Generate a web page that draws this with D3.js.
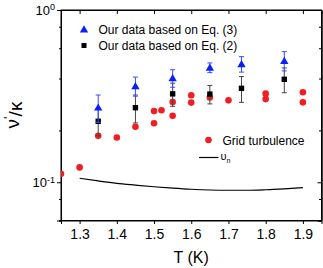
<!DOCTYPE html>
<html>
<head>
<meta charset="utf-8">
<script src="https://cdn.jsdelivr.net/npm/d3@7"></script>
<style>
  body { margin: 0; background: #fff; }
  text { font-family: "Liberation Sans", Arial, sans-serif; }
</style>
</head>
<body>
<div id="chart"></div>
<script>
// data
const eq3T = [1.35, 1.45, 1.55, 1.65, 1.735, 1.85];
const eq3V = [0.272, 0.362, 0.403, 0.463, 0.486, 0.508];
const eq3E = [0.049, 0.046, 0.047, 0.03, 0.05, 0.065];

const eq2T = [1.35, 1.45, 1.55, 1.65, 1.735, 1.85];
const eq2V = [0.226, 0.271, 0.326, 0.325, 0.351, 0.396];
const eq2E = [0.04, 0.05, 0.05, 0.04, 0.06, 0.065];

const gridT = [1.25, 1.30, 1.35, 1.40, 1.45, 1.50, 1.50, 1.52, 1.55, 1.55, 1.60, 1.60, 1.65, 1.70, 1.80, 1.80, 1.90, 1.90];
const gridV = [0.112, 0.122, 0.186, 0.182, 0.210, 0.220, 0.259, 0.262, 0.243, 0.292, 0.290, 0.320, 0.311, 0.299, 0.304, 0.327, 0.291, 0.333];

const vnT = [1.30, 1.35, 1.40, 1.45, 1.50, 1.55, 1.60, 1.65, 1.70, 1.75, 1.80, 1.85, 1.90];
const vnV = [0.1055, 0.1018, 0.0986, 0.0963, 0.0942, 0.0925, 0.0911, 0.0902, 0.0899, 0.0899, 0.0905, 0.0916, 0.0930];

const xTicks = [1.3, 1.4, 1.5, 1.6, 1.7, 1.8, 1.9];
const yMajor = [1, 0.1];
const yMinor = [0.8, 0.6, 0.4, 0.2, 0.08, 0.06];

const W = 323, H = 268;
const margin = {top: 10, right: 1.5, bottom: 47.5, left: 61};
const width = W - margin.left - margin.right,
      height = H - margin.top - margin.bottom;

const svg = d3.select("#chart").append("svg")
    .attr("width", W).attr("height", H);
const g = svg.append("g")
    .attr("transform", `translate(${margin.left},${margin.top})`);

const x = d3.scaleLinear().domain([1.25, 1.95]).range([0, width]);
const y = d3.scaleLog().domain([0.06, 1]).range([height, 0]);

// axes
g.append("g")
    .attr("transform", `translate(0,${height})`)
    .call(d3.axisBottom(x).tickValues(xTicks).tickSize(3.5).tickPadding(5).tickFormat(d3.format(".1f")))
    .call(a => a.selectAll("text").attr("font-size", 14).attr("fill", "#000"));
g.append("g")
    .call(d3.axisBottom(x).tickValues(xTicks).tickSize(4).tickFormat(""));
g.append("g")
    .attr("transform", `translate(${width},0)`)
    .call(d3.axisLeft(y).tickValues(yMajor).tickSize(4).tickFormat(""));
g.append("g")
    .attr("transform", `translate(${width},0)`)
    .call(d3.axisLeft(y).tickValues(yMinor).tickSize(2.5).tickFormat(""));
const yAxis = g.append("g")
    .call(d3.axisLeft(y).tickValues(yMajor).tickSize(4).tickPadding(4).tickFormat(""));
g.append("g")
    .call(d3.axisLeft(y).tickValues(yMinor).tickSize(2).tickFormat(""));
g.selectAll(".domain").attr("stroke", "#000");
g.selectAll(".tick line").attr("stroke", "#000");

// frame
g.append("rect").attr("width", width).attr("height", height)
    .attr("fill", "none").attr("stroke", "#000");

// y tick labels 10^0, 10^-1
yAxis.selectAll(".tick").each(function(d) {
  const t = d3.select(this).append("text")
      .attr("x", -6).attr("dy", "0.36em").attr("text-anchor", "end")
      .attr("font-size", 13).attr("fill", "#000");
  t.append("tspan").text("10");
  t.append("tspan").attr("dy", "-0.55em").attr("font-size", 9)
      .text(Math.round(Math.log10(d)) === 0 ? "0" : "-1");
});

// clip for points
g.append("clipPath").attr("id", "clip").append("rect")
    .attr("width", width).attr("height", height);
const plot = g.append("g").attr("clip-path", "url(#clip)");

// normal fluid curve
plot.append("path")
    .datum(vnT.map((t, i) => [t, vnV[i]]))
    .attr("fill", "none").attr("stroke", "#000").attr("stroke-width", 1.2)
    .attr("d", d3.line().curve(d3.curveMonotoneX)
        .x(d => x(d[0])).y(d => y(d[1])));

// grid turbulence
plot.selectAll(".grid")
  .data(gridT.map((t, i) => [t, gridV[i]]))
  .join("circle")
    .attr("cx", d => x(d[0])).attr("cy", d => y(d[1]))
    .attr("r", 3.3).attr("fill", "#f01e23");

function errorBars(T, V, E, color) {
  const data = T.map((t, i) => ({t, v: V[i], e: E[i]}));
  const eb = plot.append("g").attr("stroke", color).attr("stroke-width", 1);
  eb.selectAll("line.v").data(data).join("line")
      .attr("x1", d => x(d.t)).attr("x2", d => x(d.t))
      .attr("y1", d => y(d.v + d.e)).attr("y2", d => y(d.v - d.e));
  eb.selectAll("line.top").data(data).join("line")
      .attr("x1", d => x(d.t) - 2.5).attr("x2", d => x(d.t) + 2.5)
      .attr("y1", d => y(d.v + d.e)).attr("y2", d => y(d.v + d.e));
  eb.selectAll("line.bot").data(data).join("line")
      .attr("x1", d => x(d.t) - 2.5).attr("x2", d => x(d.t) + 2.5)
      .attr("y1", d => y(d.v - d.e)).attr("y2", d => y(d.v - d.e));
  return data;
}

const d2 = errorBars(eq2T, eq2V, eq2E, "#444");
plot.selectAll(".sq").data(d2).join("rect")
    .attr("x", d => x(d.t) - 2.7).attr("y", d => y(d.v) - 2.7)
    .attr("width", 5.4).attr("height", 5.4).attr("fill", "#000");

const d3data = errorBars(eq3T, eq3V, eq3E, "#3a4cff");
const tri = d3.symbol().type(d3.symbolTriangle).size(30);
plot.selectAll(".tri").data(d3data).join("path")
    .attr("transform", d => `translate(${x(d.t)},${y(d.v) + 0.8})`)
    .attr("d", tri).attr("fill", "#0a1eff");

// legend
const leg = svg.append("g").attr("font-size", 12).attr("fill", "#000");
leg.append("path").attr("d", tri).attr("fill", "#0a1eff")
    .attr("transform", "translate(84,30)");
leg.append("text").attr("x", 98.5).attr("y", 33.5).text("Our data based on Eq. (3)");
leg.append("rect").attr("x", 81.5).attr("y", 43).attr("width", 5).attr("height", 5).attr("fill", "#000");
leg.append("text").attr("x", 98.5).attr("y", 50).text("Our data based on Eq. (2)");
leg.append("circle").attr("cx", 208.5).attr("cy", 140).attr("r", 3.3).attr("fill", "#f01e23");
leg.append("text").attr("x", 222.5).attr("y", 144.5).text("Grid turbulence");
leg.append("line").attr("x1", 199).attr("x2", 218.5).attr("y1", 157.5).attr("y2", 157.5)
    .attr("stroke", "#000").attr("stroke-width", 1.2);
const un = leg.append("text").attr("x", 220.5).attr("y", 160);
un.append("tspan").attr("font-size", 11).text("υ");
un.append("tspan").attr("font-size", 7).attr("dy", 3).text("n");

// axis titles
svg.append("text")
    .attr("x", margin.left + x(1.6)).attr("y", 263)
    .attr("text-anchor", "middle").attr("font-size", 16).text("T (K)");
const yl = svg.append("text")
    .attr("transform", "translate(19,115) rotate(-90)")
    .attr("text-anchor", "middle").attr("font-size", 19);
yl.append("tspan").text("ν");
yl.append("tspan").attr("dy", "-0.45em").attr("font-size", 13).text("'");
yl.append("tspan").attr("dy", "0.45em").text("/κ");
</script>
</body>
</html>
